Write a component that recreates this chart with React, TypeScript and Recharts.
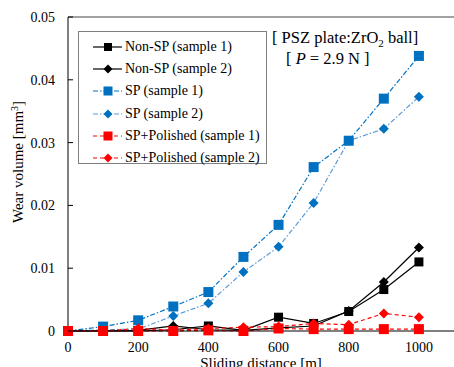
import React from 'react';
import {
  LineChart,
  Line,
  XAxis,
  YAxis,
  Legend,
  ReferenceLine,
  Label
} from 'recharts';

const distance = [0, 100, 200, 300, 400, 500, 600, 700, 800, 900, 1000];
const nonSp1 = [0, 0, 0, 0.0002, 0.0008, 0.0001, 0.0022, 0.0012, 0.0031, 0.0066, 0.011];
const nonSp2 = [0, 0, 0.0001, 0.0008, 0.0002, 0.0001, 0.0005, 0.0008, 0.0032, 0.0078, 0.0133];
const sp1 = [0, 0.0007, 0.0017, 0.0039, 0.0062, 0.0118, 0.0169, 0.0261, 0.0303, 0.037, 0.0438];
const sp2 = [0, 0.0002, 0.0003, 0.0024, 0.0044, 0.0094, 0.0134, 0.0204, 0.0303, 0.0322, 0.0373];
const polished1 = [0, 0, 0, 0, 0.0001, 0, 0.0004, 0.0003, 0.0003, 0.0003, 0.0003];
const polished2 = [0, 0, 0.0004, 0.0001, 0.0004, 0.0006, 0.0007, 0.0012, 0.001, 0.0028, 0.0022];

const xTicks = [0, 200, 400, 600, 800, 1000];
const yTicks = [0, 0.01, 0.02, 0.03, 0.04, 0.05];

const data = distance.map((d, i) => ({
  d,
  nonSp1: nonSp1[i],
  nonSp2: nonSp2[i],
  sp1: sp1[i],
  sp2: sp2[i],
  polished1: polished1[i],
  polished2: polished2[i]
}));

const FONT = "'Liberation Serif', Tinos, 'Times New Roman', 'DejaVu Serif', serif";

type Marker = 'square' | 'diamond';

const drawMarker = (kind: Marker, cx: number, cy: number, size: number, fill: string, key?: any) => {
  const h = size / 2;
  if (kind === 'square') {
    return <rect key={key} x={cx - h} y={cy - h} width={size} height={size} fill={fill} />;
  }
  return (
    <polygon
      key={key}
      points={`${cx},${cy - h} ${cx + h},${cy} ${cx},${cy + h} ${cx - h},${cy}`}
      fill={fill}
    />
  );
};

const makeDot = (kind: Marker, size: number, fill: string) => (props: any) => {
  const { cx, cy, index } = props;
  if (cx == null || cy == null) return <g key={index} />;
  return drawMarker(kind, cx, cy, size, fill, index);
};

const series = [
  { key: 'nonSp1', name: 'Non-SP (sample 1)', line: '#000000', fill: '#000000', dash: undefined, marker: 'square' as Marker, size: 9 },
  { key: 'nonSp2', name: 'Non-SP (sample 2)', line: '#000000', fill: '#000000', dash: undefined, marker: 'diamond' as Marker, size: 10 },
  { key: 'sp1', name: 'SP (sample 1)', line: '#0070C0', fill: '#0070C0', dash: '5 2 1.5 2', marker: 'square' as Marker, size: 10 },
  { key: 'sp2', name: 'SP (sample 2)', line: '#5B9BD5', fill: '#0070C0', dash: '5 2 1.5 2', marker: 'diamond' as Marker, size: 10 },
  { key: 'polished1', name: 'SP+Polished (sample 1)', line: '#FF0000', fill: '#FF0000', dash: '4 3', marker: 'square' as Marker, size: 10 },
  { key: 'polished2', name: 'SP+Polished (sample 2)', line: '#FF0000', fill: '#FF0000', dash: '4 3', marker: 'diamond' as Marker, size: 10 }
];

// draw order: blue first, then black, red on top
const drawOrder = ['sp2', 'sp1', 'nonSp2', 'nonSp1', 'polished2', 'polished1'];

const LegendBox = () => (
  <div
    style={{
      width: 189,
      height: 133,
      border: '1px solid #7F7F7F',
      background: '#fff',
      boxSizing: 'border-box',
      padding: '4px 0 0 0',
      fontFamily: FONT,
      fontSize: 14,
      color: '#000'
    }}
  >
    {series.map((s) => (
      <div key={s.key} style={{ display: 'flex', alignItems: 'center', height: 22.2 }}>
        <svg width={46} height={14} style={{ flex: 'none' }}>
          <line x1={14} x2={43} y1={7} y2={7} stroke={s.line} strokeWidth={1.2} strokeDasharray={s.dash} />
          {drawMarker(s.marker, 29, 7, s.size - 1, s.fill)}
        </svg>
        <span style={{ whiteSpace: 'nowrap' }}>{s.name}</span>
      </div>
    ))}
  </div>
);

const YTick = (props: any) => {
  const { x, y, payload } = props;
  return (
    <g>
      <line x1={x + 13} x2={x + 18} y1={y} y2={y} stroke="#000" />
      <text x={x} y={y} dy={5} textAnchor="end" style={{ fontFamily: FONT, fontSize: 14 }} fill="#000">
        {String(payload.value)}
      </text>
    </g>
  );
};

const YLabel = () => (
  <text
    x={0}
    y={0}
    transform="translate(23,162) rotate(-90)"
    textAnchor="middle"
    style={{ fontFamily: FONT, fontSize: 15 }}
    fill="#000"
  >
    Wear volume [mm<tspan dy={-5} fontSize={10}>3</tspan>
    <tspan dy={5}>]</tspan>
  </text>
);

export default function App() {
  return (
    <div style={{ position: 'absolute', left: 0, top: 0, width: 454, height: 367, background: '#fff', fontFamily: FONT }}>
      <LineChart width={454} height={367} data={data} margin={{ top: 17, right: 0, bottom: 0, left: 0 }}>
        <XAxis
          dataKey="d"
          type="number"
          domain={[0, 1100]}
          ticks={xTicks}
          tickLine={false}
          tickSize={0}
          tickMargin={11}
          height={36}
          axisLine={{ stroke: '#000' }}
          tick={{ style: { fontFamily: FONT, fontSize: 14 }, fill: '#000' }}
        >
          <Label
            value="Sliding distance [m]"
            position="insideBottom"
            offset={-1}
            style={{ fontFamily: FONT, fontSize: 15, fill: '#000' }}
          />
        </XAxis>
        <YAxis
          type="number"
          domain={[0, 0.05]}
          ticks={yTicks}
          width={68}
          tickLine={false}
          tickSize={0}
          tickMargin={13}
          axisLine={{ stroke: '#000' }}
          tick={<YTick />}
          label={<YLabel />}
        />
        <ReferenceLine y={0.05} stroke="#444" />
        <Legend
          layout="vertical"
          align="center"
          verticalAlign="middle"
          content={<LegendBox />}
          wrapperStyle={{ position: 'absolute', left: 78, top: 31, width: 189, height: 133 }}
        />
        {drawOrder.map((k) => {
          const s = series.find((x) => x.key === k)!;
          return (
            <Line
              key={s.key}
              type="linear"
              dataKey={s.key}
              name={s.name}
              stroke={s.line}
              strokeWidth={1.2}
              strokeDasharray={s.dash}
              dot={makeDot(s.marker, s.size, s.fill)}
              activeDot={false}
              isAnimationActive={false}
            />
          );
        })}
      </LineChart>
      <div
        style={{
          position: 'absolute',
          left: 272,
          top: 27,
          fontFamily: FONT,
          fontSize: 16.5,
          lineHeight: '21px',
          color: '#000',
          whiteSpace: 'nowrap'
        }}
      >
        <div>[ PSZ plate:ZrO<sub style={{ fontSize: 11, lineHeight: 0 }}>2</sub> ball]</div>
        <div style={{ paddingLeft: 14 }}>
          [ <i>P</i> = 2.9 N ]
        </div>
      </div>
    </div>
  );
}
